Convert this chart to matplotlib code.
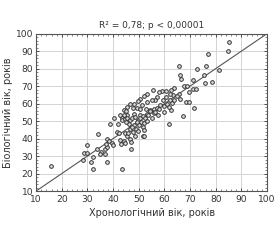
import matplotlib
matplotlib.use("Agg")
import matplotlib.pyplot as plt
from matplotlib.ticker import MultipleLocator

# chronological age (x) vs biological age (y)
upper = [(85.2, 95.0), (84.6, 90.1), (76.8, 88.2), (81.3, 79.0), (76.2, 81.5), (72.7, 79.6),
         (75.5, 76.1), (78.4, 72.5), (75.7, 71.8), (65.8, 81.5), (66.2, 76.1), (66.3, 74.2),
         (71.1, 73.3), (67.6, 69.8), (68.8, 70.0), (71.1, 68.5), (72.3, 68.1), (69.6, 66.6),
         (63.6, 69.1), (62.7, 67.6), (60.6, 67.0), (59.2, 67.0), (57.7, 66.6), (55.5, 67.6),
         (63.3, 64.7), (62.0, 65.3), (65.5, 65.6), (64.9, 64.3), (66.2, 62.8), (68.4, 60.7),
         (69.5, 60.7), (71.7, 57.6), (67.2, 53.1), (60.5, 63.5), (59.4, 61.8), (57.1, 63.5),
         (56.2, 61.8), (53.2, 65.6), (51.9, 64.1), (50.6, 62.6), (49.5, 61.5), (48.2, 60.0),
         (46.7, 59.5), (45.4, 58.0), (49.3, 57.6), (62.7, 56.1), (59.8, 55.0)]
middle = [(44.3, 56.1), (47.7, 57.6), (55.1, 61.8), (53.2, 61.1), (51.2, 59.2), (50.6, 56.9),
          (52.8, 56.7), (54.3, 56.1), (55.8, 56.7), (57.1, 57.6), (58.4, 59.0), (59.7, 58.4),
          (61.0, 59.9), (62.0, 61.8), (63.1, 60.3), (63.6, 61.8), (61.6, 58.0), (55.8, 54.8),
          (53.2, 54.2), (50.6, 53.6), (45.4, 53.2), (44.2, 53.2), (48.0, 54.2), (43.4, 51.7),
          (43.5, 50.5), (44.5, 51.0), (45.5, 52.0), (46.5, 50.5), (47.5, 51.5), (48.5, 52.5),
          (49.5, 50.5), (50.5, 51.5), (51.5, 53.0), (52.5, 52.0), (46.0, 48.5), (48.0, 48.0),
          (50.8, 49.5), (53.5, 53.5), (54.5, 55.5), (56.5, 55.0), (57.5, 53.5), (55.0, 51.5),
          (58.0, 57.0), (45.0, 55.5), (42.5, 53.5), (40.5, 52.0)]
lower = [(15.7, 24.5), (29.8, 36.3), (28.5, 31.6), (29.8, 31.6), (28.3, 27.8), (31.5, 26.5),
         (32.1, 29.3), (32.1, 22.8), (34.3, 42.5), (33.7, 33.9), (35.2, 32.5), (35.0, 31.0),
         (36.7, 33.9), (36.7, 31.0), (37.6, 35.4), (37.3, 36.9), (37.6, 40.0), (38.4, 38.5),
         (37.6, 26.5), (39.6, 37.2), (39.9, 36.3), (38.6, 48.1), (41.5, 44.0), (41.9, 48.5),
         (42.2, 43.2), (42.5, 39.1), (43.0, 36.9), (43.6, 22.6), (44.1, 38.7), (44.7, 37.2),
         (44.5, 43.4), (45.4, 41.4), (45.8, 42.9), (45.1, 49.4), (46.7, 39.7), (46.9, 38.2),
         (47.0, 33.9), (46.5, 45.7), (47.4, 46.6), (47.7, 43.8), (48.6, 41.4), (48.8, 45.7),
         (49.3, 49.4), (49.7, 44.4), (50.0, 47.6), (51.6, 41.4), (52.1, 41.4), (51.8, 46.6),
         (52.1, 48.9), (52.1, 44.8), (61.6, 48.1), (53.1, 50.0)]

points = upper + middle + lower
chrono = [p[0] for p in points]
bio = [p[1] for p in points]

ticks = list(range(10, 101, 10))
title = "R² = 0,78; p < 0,00001"
xlab = "Хронологічний вік, років"
ylab = "Біологічний вік, років"

txt = "#333333"
fig = plt.figure(figsize=(2.8, 2.4), dpi=100)
ax = fig.add_axes([0.129, 0.204, 0.825, 0.656])

ax.grid(True, color="#d4d4d4", lw=0.7)
ax.set_axisbelow(True)
ax.plot([10, 100], [10, 100], color="#555555", lw=0.8, zorder=2)
ax.scatter(chrono, bio, s=7, facecolor="#dddddd", edgecolor="#333333", lw=0.7, zorder=3)

ax.set_xlim(10, 100)
ax.set_ylim(10, 100)
ax.set_xticks(ticks)
ax.set_yticks(ticks)
ax.xaxis.set_minor_locator(MultipleLocator(2))
ax.yaxis.set_minor_locator(MultipleLocator(2))
ax.tick_params(which="major", direction="in", length=2, width=0.6, labelsize=6.6,
               colors=txt, top=True, right=True)
ax.tick_params(axis="x", which="major", pad=3)
ax.tick_params(axis="y", which="major", pad=2)
ax.tick_params(which="minor", direction="in", length=1.2, width=0.5, colors="#555555",
               top=True, right=True)
for s in ax.spines.values():
    s.set_color("#555555")
    s.set_linewidth(0.8)

ax.set_title(title, fontsize=6.5, color=txt, pad=4)
ax.set_xlabel(xlab, fontsize=7, color=txt, labelpad=3)
ax.set_ylabel(ylab, fontsize=7, color=txt, labelpad=2)

fig.savefig("out.png", dpi=100)
